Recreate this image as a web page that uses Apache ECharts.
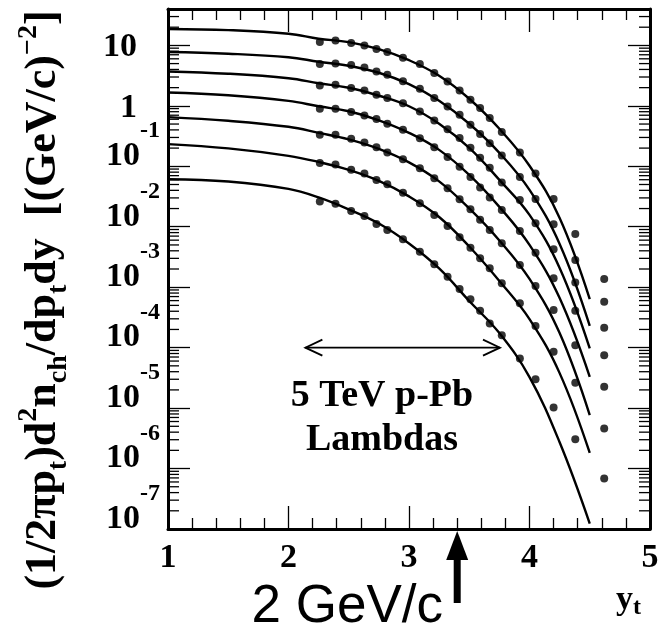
<!DOCTYPE html>
<html><head><meta charset="utf-8">
<script src="https://cdn.jsdelivr.net/npm/echarts@6/dist/echarts.min.js"></script>
<style>html,body{margin:0;padding:0;background:#fff}#c{width:667px;height:634px}</style>
</head><body><div id="c"></div>
<script>
// ---- data ----
const xTickLabels = ['1','2','3','4','5'];
const minorMultipliers = [2,3,4,5,6,7,8,9];
const decadeExponents = [-7,-6,-5,-4,-3,-2,-1,0,1];

const dotX = [2.26,2.39,2.52,2.63,2.73,2.82,2.95,3.09,3.21,3.32,3.42,3.51,3.59,3.67,3.77,3.92,4.05,4.2,4.38,4.62];
const dots1 = [11.4,12.0,11.0,10.0,8.72,7.78,6.26,4.92,3.49,2.53,1.80,1.26,0.918,0.627,0.368,0.169,0.0758,0.0289,0.0076,0.00137];
const dots2 = [4.92,5.03,4.74,4.32,3.71,3.27,2.56,1.92,1.345,0.976,0.711,0.486,0.341,0.240,0.151,0.0668,0.0289,0.0110,0.00282,0.000575];
const dots3 = [2.18,2.23,1.97,1.80,1.525,1.345,1.10,0.807,0.572,0.412,0.293,0.202,0.138,0.0942,0.0538,0.0278,0.0114,0.00424,0.00120,0.000213];
const dots4 = [0.894,0.894,0.788,0.693,0.604,0.505,0.402,0.290,0.2075,0.143,0.0979,0.0668,0.0448,0.0306,0.0190,0.00852,0.00372,0.00140,0.000408,0.0000752];
const dots5 = [0.332,0.332,0.285,0.247,0.2075,0.169,0.131,0.0932,0.0636,0.0434,0.0286,0.0195,0.0130,0.00885,0.00533,0.00233,0.00105,0.000419,0.000110,0.0000225];
const dots6 = [0.113,0.107,0.0873,0.0758,0.0596,0.0506,0.0366,0.0245,0.0157,0.0103,0.0067,0.00451,0.00301,0.00206,0.00116,0.000541,0.000228,0.0000854,0.0000262,0.0000046];
const dots7 = [0.0261,0.0239,0.0183,0.0151,0.0111,0.00885,0.00621,0.00387,0.00239,0.00149,0.000933,0.00063,0.000408,0.000252,0.000161,0.0000664,0.0000301,0.0000102,0.00000306,0.000000683];

const curveX = [1,1.5,2,2.25,2.5,2.75,3,3.25,3.5,3.75,4,4.25,4.5];
const curve1 = [18.7,17.9,15.6,12.9,11.3,8.65,5.69,3.15,1.31,0.417,0.102,0.014,0.000637];
const curve2 = [7.78,7.29,6.38,5.37,4.61,3.53,2.28,1.21,0.505,0.167,0.0407,0.00519,0.00023];
const curve3 = [3.71,3.40,2.86,2.37,1.99,1.47,0.984,0.505,0.202,0.0596,0.0157,0.00208,0.0000971];
const curve4 = [1.665,1.50,1.21,0.984,0.813,0.577,0.358,0.187,0.0721,0.0213,0.005,0.000662,0.0000329];
const curve5 = [0.652,0.566,0.45,0.358,0.279,0.194,0.116,0.0563,0.0201,0.00593,0.00137,0.000174,0.00000763];
const curve6 = [0.233,0.198,0.149,0.118,0.0873,0.0574,0.0318,0.0145,0.00472,0.00127,0.000297,0.0000379,0.00000181];
const curve7 = [0.0612,0.0559,0.0423,0.0306,0.0194,0.0113,0.00529,0.00204,0.00059,0.000174,0.0000325,0.00000272,0.000000123];

const curves = [curve1,curve2,curve3,curve4,curve5,curve6,curve7];
const dotSets = [dots1,dots2,dots3,dots4,dots5,dots6,dots7];

const arrowRange = [2.14, 3.755];   // double arrow span in y_t
const arrowLevel = 1e-4;
const ptMarkX = 3.4;                 // 2 GeV/c marker
const Y_MIN = 1e-7, Y_MAX = 40;

// ---- build ----
const SERIF = '"Liberation Serif","Times New Roman",serif';
const SANS = '"Liberation Sans",Arial,sans-serif';
const chart = echarts.init(document.getElementById('c'), null, {renderer:'canvas'});

const minorY = [];
decadeExponents.forEach(e => minorMultipliers.forEach(k => {
  const v = k * Math.pow(10, e);
  if (v < Y_MAX && v > Y_MIN) minorY.push([1, v]);
}));

const series = [];
curves.forEach((c) => {
  series.push({
    type:'line', xAxisIndex:0, yAxisIndex:0, smooth:0.4, showSymbol:false, silent:true,
    lineStyle:{color:'#000', width:2.4}, data: curveX.map((x, j) => [x, c[j]]), z:3
  });
});
dotSets.forEach((d) => {
  series.push({
    type:'scatter', xAxisIndex:0, yAxisIndex:0, symbol:'circle', symbolSize:8, silent:true,
    itemStyle:{color:'#000'}, data: dotX.map((x, j) => [x, d[j]]), z:4
  });
});
series.push({
  type:'custom', xAxisIndex:0, yAxisIndex:0, silent:true, z:5,
  data: minorY,
  renderItem: (params, api) => {
    const v = api.value(1);
    const pL = api.coord([1, v]);
    const pR = api.coord([5, v]);
    return {type:'group', children:[
      {type:'line', shape:{x1:pL[0], y1:pL[1], x2:pL[0]+11, y2:pL[1]}, style:{stroke:'#000', lineWidth:1.3}},
      {type:'line', shape:{x1:pR[0]-11, y1:pR[1], x2:pR[0], y2:pR[1]}, style:{stroke:'#000', lineWidth:1.3}}
    ]};
  }
});

function yLabel(v) {
  const lg = Math.log10(v);
  const e = Math.round(lg);
  if (Math.abs(lg - e) > 1e-6) return '';
  if (e === 1) return '{p|10}';
  if (e === 0) return '{p|1}';
  return '{b|10}{e|' + e + '}';
}

const xCommon = {
  type:'value', min:1, max:5, interval:1,
  axisLine:{show:true, onZero:false, lineStyle:{color:'#000', width:3}},
  axisTick:{show:true, inside:true, length:23, lineStyle:{color:'#000', width:1.3}},
  minorTick:{show:true, splitNumber:5, length:11, lineStyle:{color:'#000', width:1.3}},
  splitLine:{show:false}, minorSplitLine:{show:false}
};
const yCommon = {
  type:'log', logBase:10, min:Y_MIN, max:Y_MAX,
  axisLine:{show:true, onZero:false, lineStyle:{color:'#000', width:3}},
  axisTick:{show:true, inside:true, length:22, lineStyle:{color:'#000', width:1.3}},
  splitLine:{show:false}
};

chart.setOption({
  animation:false,
  backgroundColor:'#fff',
  grid:{left:168, right:17, top:9, bottom:105, containLabel:false, outerBoundsMode:'none'},
  xAxis:[
    Object.assign({}, xCommon, {position:'bottom',
      axisLabel:{show:true, margin:12, color:'#000', fontFamily:SERIF, fontWeight:'bold', fontSize:34,
        formatter: v => xTickLabels[Math.round(v) - 1] || ''}}),
    Object.assign({}, xCommon, {position:'top', axisLabel:{show:false}})
  ],
  yAxis:[
    Object.assign({}, yCommon, {position:'left',
      axisLabel:{show:true, margin:8, color:'#000', formatter:yLabel, showMinLabel:true, showMaxLabel:false,
        verticalAlign:'bottom', padding:[0,0,13,0],
        rich:{
          p:{fontFamily:SERIF, fontWeight:'bold', fontSize:34, lineHeight:34, padding:[32,23,0,0], verticalAlign:'top', color:'#000'},
          b:{fontFamily:SERIF, fontWeight:'bold', fontSize:34, lineHeight:34, padding:[20,0,0,0], verticalAlign:'top', color:'#000'},
          e:{fontFamily:SERIF, fontWeight:'bold', fontSize:24, lineHeight:24, verticalAlign:'top', color:'#000'}
        }}}),
    Object.assign({}, yCommon, {position:'right', axisLabel:{show:false}})
  ],
  series: series
});

// ---- annotations positioned through the axes ----
const P = (x, y) => chart.convertToPixel({gridIndex:0}, [x, y]);
const aL = P(arrowRange[0], arrowLevel), aR = P(arrowRange[1], arrowLevel);
const mk = P(ptMarkX, Y_MIN);
const ay = aL[1];
const lineSty = {stroke:'#000', lineWidth:1.8, fill:null};

chart.setOption({
  graphic:[
    {type:'polyline', shape:{points:[[aL[0],ay],[aR[0],ay]]}, style:lineSty, silent:true},
    {type:'polyline', shape:{points:[[aL[0]+17,ay-8],[aL[0],ay],[aL[0]+17,ay+8]]}, style:lineSty, silent:true},
    {type:'polyline', shape:{points:[[aR[0]-17,ay-8],[aR[0],ay],[aR[0]-17,ay+8]]}, style:lineSty, silent:true},
    {type:'text', x:382, y:418, silent:true, style:{
      text:'5 TeV p-Pb\nLambdas', fontFamily:SERIF, fontWeight:'bold', fontSize:38, lineHeight:44,
      align:'center', verticalAlign:'middle', fill:'#000'}},
    {type:'rect', shape:{x:mk[0]-3.5, y:mk[1]+28, width:7, height:46}, style:{fill:'#000'}, silent:true},
    {type:'polygon', shape:{points:[[mk[0],mk[1]+2],[mk[0]-11,mk[1]+31],[mk[0]+11,mk[1]+31]]}, style:{fill:'#000'}, silent:true},
    {type:'text', x:443, y:607, silent:true, style:{
      text:'2 GeV/c', fontFamily:SANS, fontSize:53, align:'right', verticalAlign:'middle', fill:'#000'}},
    {type:'text', x:616, y:600, silent:true, style:{
      text:'{a|y}{s|t}', align:'left', verticalAlign:'middle',
      rich:{a:{fontFamily:SERIF, fontWeight:'bold', fontSize:34, lineHeight:40, verticalAlign:'middle', fill:'#000'},
            s:{fontFamily:SERIF, fontWeight:'bold', fontSize:24, lineHeight:24, verticalAlign:'bottom', fill:'#000'}}}},
    {type:'text', x:44, y:300, rotation:Math.PI/2, silent:true, style:{
      text:'{n|(1/2πp}{s|t}{n|)d}{u|2}{n|n}{s|ch}{n|/dp}{s|t}{n|dy  [(GeV/c)}{u|−2}{n|]}',
      align:'center', verticalAlign:'middle',
      rich:{
        n:{fontFamily:SERIF, fontWeight:'bold', fontSize:44, lineHeight:58, verticalAlign:'middle', fill:'#000'},
        s:{fontFamily:SERIF, fontWeight:'bold', fontSize:28, lineHeight:28, verticalAlign:'bottom', fill:'#000'},
        u:{fontFamily:SERIF, fontWeight:'bold', fontSize:28, lineHeight:28, verticalAlign:'top', fill:'#000'}
      }}}
  ]
});
</script>
</body></html>
